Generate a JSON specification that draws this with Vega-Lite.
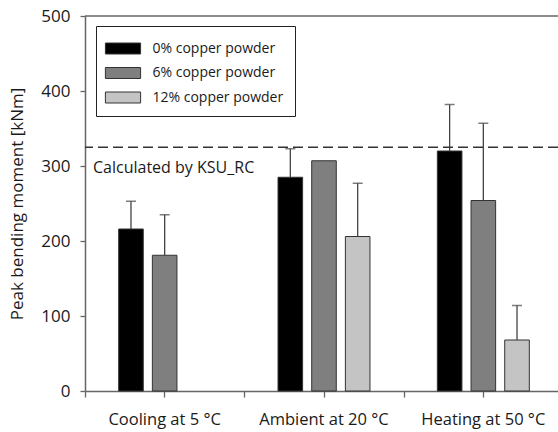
{
  "$schema": "https://vega.github.io/schema/vega-lite/v6.json",
  "width": 473,
  "height": 375,
  "autosize": {"type": "none"},
  "padding": {"left": 85, "top": 16, "right": 0, "bottom": 41},
  "config": {
    "view": {"stroke": null},
    "font": "Open Sans",
    "axis": {"domainColor": "#666", "tickColor": "#666", "labelColor": "#1a1a1a", "titleColor": "#1a1a1a", "grid": false}
  },
  "data": {
    "values": [
      {"group": "Cooling at 5 °C", "series": "0% copper powder", "value": 216, "upper": 253},
      {"group": "Cooling at 5 °C", "series": "6% copper powder", "value": 181, "upper": 235},
      {"group": "Ambient at 20 °C", "series": "0% copper powder", "value": 285, "upper": 323},
      {"group": "Ambient at 20 °C", "series": "6% copper powder", "value": 307, "upper": null},
      {"group": "Ambient at 20 °C", "series": "12% copper powder", "value": 206, "upper": 277},
      {"group": "Heating at 50 °C", "series": "0% copper powder", "value": 320, "upper": 382},
      {"group": "Heating at 50 °C", "series": "6% copper powder", "value": 254, "upper": 357},
      {"group": "Heating at 50 °C", "series": "12% copper powder", "value": 68, "upper": 114}
    ]
  },
  "resolve": {"axis": {"x": "independent"}},
  "layer": [
    {
      "mark": {"type": "bar", "stroke": "#333", "strokeWidth": 1},
      "encoding": {
        "x": {
          "field": "group", "type": "nominal", "sort": null,
          "scale": {"domain": ["Cooling at 5 °C", "Ambient at 20 °C", "Heating at 50 °C"], "range": [0, 478], "paddingInner": 0, "paddingOuter": 0},
          "axis": {"orient": "bottom", "title": null, "labelAngle": 0, "labelFontSize": 16.5, "labelPadding": 14, "tickSize": 6, "domainWidth": 1.5, "tickWidth": 1.3, "labelLimit": 300}
        },
        "xOffset": {
          "field": "series", "type": "nominal",
          "scale": {"domain": ["0% copper powder", "6% copper powder", "12% copper powder"], "paddingInner": 0.27, "paddingOuter": 1.1}
        },
        "y": {
          "field": "value", "type": "quantitative",
          "scale": {"domain": [0, 500], "nice": false},
          "axis": {"values": [0, 100, 200, 300, 400, 500], "title": "Peak bending moment [kNm]", "titleFontSize": 17, "titleFontWeight": "normal", "titlePadding": 14, "labelFontSize": 17, "labelPadding": 10, "tickSize": 5, "domainWidth": 1.5, "tickWidth": 1.3}
        },
        "color": {
          "field": "series", "type": "nominal",
          "scale": {"domain": ["0% copper powder", "6% copper powder", "12% copper powder"], "range": ["#000000", "#7f7f7f", "#c4c4c4"]},
          "legend": {
            "orient": "none", "legendX": 11, "legendY": 10, "title": null,
            "strokeColor": "#222", "fillColor": "white", "padding": 11,
            "symbolType": "M-1.6,-0.5 h3.2 v1 h-3.2 z", "symbolSize": 484,
            "symbolStrokeColor": "#333", "symbolStrokeWidth": 1, "symbolOpacity": 1,
            "symbolOffset": 4.5, "labelOffset": 18, "labelFontSize": 14, "labelColor": "#1a1a1a",
            "rowPadding": 5.5, "labelLimit": 300
          }
        }
      }
    },
    {
      "transform": [{"filter": "datum.upper != null"}],
      "mark": {"type": "rule", "color": "#444", "strokeWidth": 1.3},
      "encoding": {
        "x": {"field": "group", "type": "nominal", "sort": null, "axis": null},
        "xOffset": {"field": "series", "type": "nominal"},
        "y": {"field": "value", "type": "quantitative"},
        "y2": {"field": "upper"}
      }
    },
    {
      "transform": [{"filter": "datum.upper != null"}],
      "mark": {"type": "tick", "color": "#444", "thickness": 1.5, "size": 10, "orient": "horizontal"},
      "encoding": {
        "x": {"field": "group", "type": "nominal", "sort": null, "axis": null},
        "xOffset": {"field": "series", "type": "nominal"},
        "y": {"field": "upper", "type": "quantitative"}
      }
    },
    {
      "data": {"values": [{"y": 500}]},
      "mark": {"type": "rule", "color": "#666", "strokeWidth": 1.5},
      "encoding": {"y": {"field": "y", "type": "quantitative"}}
    },
    {
      "data": {"values": [{"y": 325}]},
      "mark": {"type": "rule", "color": "#333", "strokeWidth": 1.3, "strokeDash": [10, 5]},
      "encoding": {"y": {"field": "y", "type": "quantitative"}}
    },
    {
      "data": {"values": [{"label": "Calculated by KSU_RC", "group": "Cooling at 5 °C", "v": 297}]},
      "mark": {"type": "text", "align": "left", "baseline": "middle", "dx": 8, "fontSize": 16, "color": "#1a1a1a"},
      "encoding": {
        "x": {
          "field": "group", "type": "nominal", "sort": null, "bandPosition": 0,
          "axis": {"orient": "bottom", "title": null, "labels": false, "domain": false, "tickBand": "extent", "tickSize": 6, "tickWidth": 1.3}
        },
        "y": {"field": "v", "type": "quantitative"},
        "text": {"field": "label"}
      }
    }
  ]
}
